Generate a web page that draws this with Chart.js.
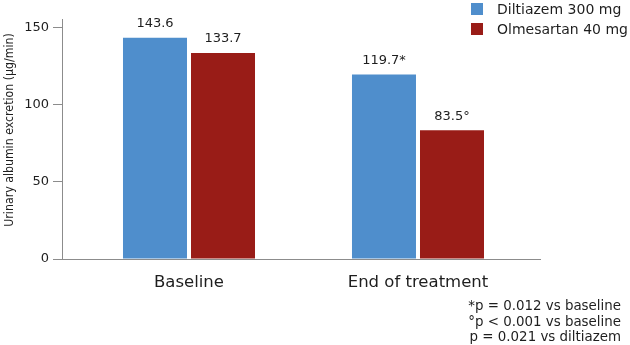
<!DOCTYPE html>
<html>
<head>
<meta charset="utf-8">
<script src="https://cdn.jsdelivr.net/npm/chart.js@4/dist/chart.umd.min.js"></script>
<style>
  html, body { margin: 0; padding: 0; background: #fff; }
  #wrap { width: 630px; height: 345px; position: relative; }
</style>
</head>
<body>
<div id="wrap"><canvas id="c" width="630" height="345"></canvas></div>
<script>
const categories = ["Baseline", "End of treatment"];
const seriesNames = ["Diltiazem 300 mg", "Olmesartan 40 mg"];
const diltiazem = [143.6, 119.7];
const olmesartan = [133.7, 83.5];
const diltiazemMarks = ["", "*"];
const olmesartanMarks = ["", "°"];
const yTicks = [0, 50, 100, 150];
const yTitle = "Urinary albumin excretion (µg/min)";
const footnotes = ["*p = 0.012 vs baseline", "°p < 0.001 vs baseline", " p = 0.021 vs diltiazem"];

const colors = ["#4f8ecc", "#991c17"];
const FONT = "'DejaVu Sans', sans-serif";
const TEXT = "#1e1e1e";
const AXIS = "#8c8c8c";

const valueLabels = {
  id: "valueLabels",
  afterDatasetsDraw(chart) {
    const ctx = chart.ctx;
    ctx.save();
    ctx.font = "13px " + FONT;
    ctx.fillStyle = TEXT;
    ctx.textAlign = "center";
    ctx.textBaseline = "middle";
    chart.data.datasets.forEach((ds, di) => {
      const meta = chart.getDatasetMeta(di);
      meta.data.forEach((bar, i) => {
        const v = ds.data[i].y;
        ctx.fillText(v.toFixed(1) + ds.marks[i], bar.x, bar.y - 14);
      });
    });
    ctx.restore();
  }
};

const extras = {
  id: "extras",
  afterDraw(chart) {
    const ctx = chart.ctx;
    ctx.save();
    // y axis title
    ctx.font = "11px " + FONT;
    ctx.fillStyle = TEXT;
    ctx.textAlign = "center";
    ctx.textBaseline = "middle";
    ctx.translate(10, 130);
    ctx.rotate(-Math.PI / 2);
    ctx.scale(1, 1.18);
    ctx.fillText(yTitle, 0, 0);
    ctx.setTransform(1, 0, 0, 1, 0, 0);
    // legend
    ctx.font = "14px " + FONT;
    ctx.textBaseline = "middle";
    ctx.textAlign = "left";
    chart.data.datasets.forEach((ds, i) => {
      const cy = 9 + i * 20;
      ctx.fillStyle = ds.backgroundColor;
      ctx.fillRect(471, cy - 6, 12, 12);
      ctx.fillStyle = TEXT;
      ctx.fillText(ds.label, 497, cy + 1);
    });
    // footnotes
    ctx.font = "13.4px " + FONT;
    ctx.textAlign = "right";
    footnotes.forEach((t, i) => {
      ctx.fillText(t, 621, 307 + i * 15.5);
    });
    ctx.restore();
  }
};

new Chart(document.getElementById("c"), {
  type: "bar",
  data: {
    datasets: [
      { label: seriesNames[0], data: categories.map((c, i) => ({ x: i, y: diltiazem[i] })), marks: diltiazemMarks,
        backgroundColor: colors[0], categoryPercentage: 0.594, barPercentage: 0.941 },
      { label: seriesNames[1], data: categories.map((c, i) => ({ x: i, y: olmesartan[i] })), marks: olmesartanMarks,
        backgroundColor: colors[1], categoryPercentage: 0.594, barPercentage: 0.941 }
    ]
  },
  options: {
    responsive: false,
    animation: false,
    layout: { padding: { top: 19, right: 90, left: 0, bottom: 0 } },
    plugins: { legend: { display: false }, tooltip: { enabled: false } },
    scales: {
      x: {
        type: "linear",
        offset: false,
        min: -0.5546,
        max: 1.5328,
        afterBuildTicks(s) { s.ticks = categories.map((c, i) => ({ value: i })); },
        afterFit(s) { s.height = 86; },
        grid: { display: false, drawTicks: false },
        border: { display: true, color: AXIS, width: 1 },
        ticks: {
          padding: 14,
          color: TEXT,
          font: { family: FONT, size: 16.5 },
          callback: (v) => categories[v] ?? ""
        }
      },
      y: {
        min: 0,
        max: 155.8,
        afterBuildTicks(s) { s.ticks = yTicks.map(v => ({ value: v })); },
        afterFit(s) { s.width = 62; },
        grid: { display: true, drawOnChartArea: false, drawTicks: true, tickLength: 9, color: AXIS },
        border: { display: true, color: AXIS, width: 1 },
        ticks: { padding: 4, color: TEXT, font: { family: FONT, size: 13 } }
      }
    }
  },
  plugins: [valueLabels, extras]
});
</script>
</body>
</html>
